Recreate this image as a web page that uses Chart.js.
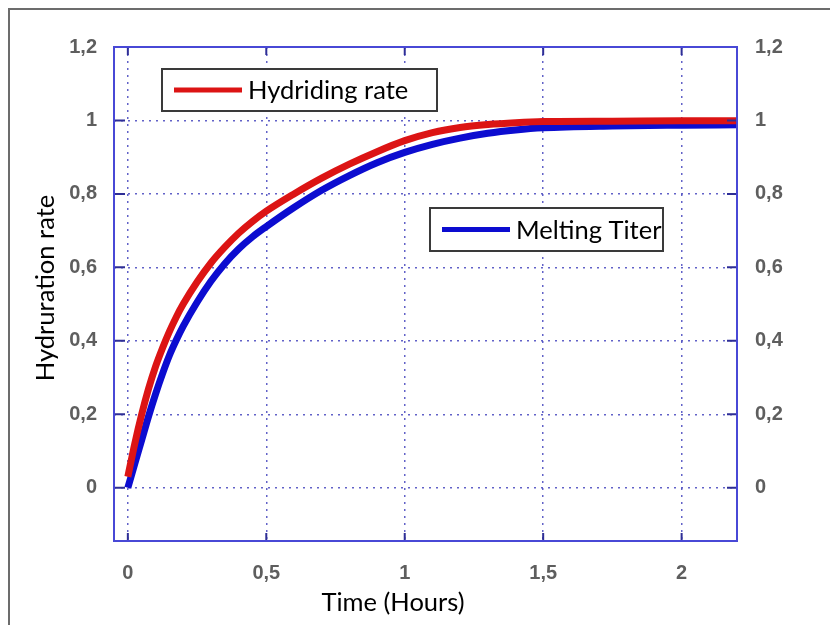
<!DOCTYPE html>
<html>
<head>
<meta charset="utf-8">
<title>Hydruration rate</title>
<script src="https://cdn.jsdelivr.net/npm/chart.js@4.4.1/dist/chart.umd.min.js"></script>
<style>
  html, body { margin: 0; padding: 0; background: #fff; }
  #wrap { position: relative; width: 830px; height: 625px; overflow: hidden; }
  #frame {
    position: absolute; left: 8px; top: 8px; right: -4px; bottom: -4px;
    border-left: 2px solid #6c6c6c; border-top: 2px solid #6c6c6c;
  }
  #chart { position: absolute; left: 0; top: 0; }
</style>
</head>
<body>
<div id="wrap">
  <div id="frame"></div>
  <canvas id="chart" width="830" height="625"></canvas>
</div>
<script>
// time axis (hours) shared by both curves
const timeHours     = [0, 0.025, 0.05, 0.075, 0.1, 0.125, 0.15, 0.175, 0.2, 0.25, 0.3, 0.35, 0.4, 0.45, 0.5,
                       0.6, 0.7, 0.8, 0.9, 1.0, 1.1, 1.2, 1.3, 1.4, 1.5, 1.75, 2.0, 2.2];
const hydridingRate = [0.03, 0.12, 0.2, 0.27, 0.33, 0.38, 0.425, 0.465, 0.5, 0.56, 0.612, 0.655, 0.693, 0.725, 0.753,
                       0.8, 0.843, 0.881, 0.915, 0.945, 0.967, 0.981, 0.989, 0.994, 0.997, 0.998, 0.999, 0.999];
const meltingTiter  = [0, 0.065, 0.13, 0.195, 0.255, 0.31, 0.36, 0.402, 0.44, 0.505, 0.562, 0.61, 0.65, 0.683, 0.711,
                       0.763, 0.81, 0.85, 0.885, 0.913, 0.935, 0.952, 0.965, 0.974, 0.98, 0.985, 0.987, 0.988];

const xTicks = [0, 0.5, 1, 1.5, 2];
const yTicks = [0, 0.2, 0.4, 0.6, 0.8, 1, 1.2];
const xRange = [-0.05, 2.2];
const yRange = [-0.145, 1.2];

const GRID_COLOR = 'rgba(70, 70, 190, 0.85)';
const TICK_FONT = { family: 'Liberation Sans, Arial, sans-serif', size: 20, weight: 'bold' };
const TICK_COLOR = '#5e5e5e';
const TEXT_FONT = 'Lato, "Open Sans", sans-serif';

// comma as decimal separator
const fmt = v => String(Math.round(v * 10) / 10).replace('.', ',');

const toPoints = ys => timeHours.map((t, i) => ({ x: t, y: ys[i] }));

// frame around the plot plus the short inward tick marks
const framePlugin = {
  id: 'plotFrame',
  afterDatasetsDraw(chart) {
    const { ctx, chartArea: a, scales } = chart;
    ctx.save();
    ctx.strokeStyle = '#2e2e96';
    ctx.lineWidth = 2;
    ctx.beginPath();
    xTicks.forEach(v => {
      const px = scales.x.getPixelForValue(v);
      ctx.moveTo(px, a.bottom); ctx.lineTo(px, a.bottom - 8);
      ctx.moveTo(px, a.top); ctx.lineTo(px, a.top + 8);
    });
    yTicks.forEach(v => {
      const py = scales.y.getPixelForValue(v);
      ctx.moveTo(a.left, py); ctx.lineTo(a.left + 11, py);
      ctx.moveTo(a.right, py); ctx.lineTo(a.right - 10, py);
    });
    ctx.stroke();
    ctx.strokeStyle = '#4848d6';
    ctx.lineWidth = 2;
    ctx.strokeRect(a.left, a.top, a.right - a.left, a.bottom - a.top);
    ctx.restore();
  }
};

// two separate boxed legend entries inside the plot
const legendBoxes = [
  { index: 0, x: 162, y: 69, w: 275, h: 42 },
  { index: 1, x: 430, y: 208, w: 233, h: 43 }
];

const boxLegendPlugin = {
  id: 'boxLegend',
  afterDraw(chart) {
    const { ctx } = chart;
    ctx.save();
    legendBoxes.forEach(b => {
      const ds = chart.data.datasets[b.index];
      ctx.fillStyle = '#fff';
      ctx.fillRect(b.x, b.y, b.w, b.h);
      ctx.strokeStyle = '#3a3a3a';
      ctx.lineWidth = 2;
      ctx.strokeRect(b.x, b.y, b.w, b.h);
      const cy = b.y + b.h / 2;
      ctx.strokeStyle = ds.borderColor;
      ctx.lineWidth = 5;
      ctx.beginPath();
      ctx.moveTo(b.x + 12, cy);
      ctx.lineTo(b.x + 80, cy);
      ctx.stroke();
      ctx.fillStyle = '#000';
      ctx.font = '25.5px ' + TEXT_FONT;
      ctx.textAlign = 'left';
      ctx.textBaseline = 'middle';
      ctx.fillText(ds.label, b.x + 86, cy + 1);
    });
    ctx.restore();
  }
};

// axis titles
const axisTitlePlugin = {
  id: 'axisTitles',
  afterDraw(chart) {
    const { ctx } = chart;
    ctx.save();
    ctx.fillStyle = '#000';
    ctx.font = '25.5px ' + TEXT_FONT;
    ctx.textAlign = 'center';
    ctx.textBaseline = 'middle';
    ctx.fillText('Time (Hours)', 393, 603);
    ctx.translate(46, 288);
    ctx.rotate(-Math.PI / 2);
    ctx.fillText('Hydruration rate', 0, 0);
    ctx.restore();
  }
};

const setTicks = list => scale => { scale.ticks = list.map(v => ({ value: v })); };

new Chart(document.getElementById('chart'), {
  type: 'line',
  data: {
    datasets: [
      {
        label: 'Hydriding rate',
        data: toPoints(hydridingRate),
        borderColor: '#dc1414',
        borderWidth: 7,
        pointRadius: 0,
        fill: false,
        cubicInterpolationMode: 'monotone'
      },
      {
        label: 'Melting Titer',
        data: toPoints(meltingTiter),
        borderColor: '#0c0cd0',
        borderWidth: 7,
        pointRadius: 0,
        fill: false,
        cubicInterpolationMode: 'monotone'
      }
    ]
  },
  options: {
    responsive: false,
    animation: false,
    devicePixelRatio: 1,
    layout: { padding: { top: 47, left: 0, right: 0, bottom: 0 } },
    plugins: { legend: { display: false }, tooltip: { enabled: false } },
    scales: {
      x: {
        type: 'linear',
        min: xRange[0],
        max: xRange[1],
        afterBuildTicks: setTicks(xTicks),
        afterFit: s => { s.height = 84; },
        grid: { color: GRID_COLOR, lineWidth: 1.5, drawTicks: false },
        border: { display: false, dash: [2, 5] },
        ticks: { font: TICK_FONT, color: TICK_COLOR, padding: 20, maxRotation: 0, callback: fmt }
      },
      y: {
        type: 'linear',
        position: 'left',
        min: yRange[0],
        max: yRange[1],
        afterBuildTicks: setTicks(yTicks),
        afterFit: s => { s.width = 114; },
        grid: { color: GRID_COLOR, lineWidth: 1.5, drawTicks: false },
        border: { display: false, dash: [2, 5] },
        ticks: { font: TICK_FONT, color: TICK_COLOR, padding: 17, callback: fmt }
      },
      y2: {
        type: 'linear',
        position: 'right',
        min: yRange[0],
        max: yRange[1],
        afterBuildTicks: setTicks(yTicks),
        afterFit: s => { s.width = 93; },
        grid: { display: false, drawTicks: false },
        border: { display: false },
        ticks: { font: TICK_FONT, color: TICK_COLOR, padding: 18, callback: fmt }
      }
    }
  },
  plugins: [framePlugin, boxLegendPlugin, axisTitlePlugin]
});
</script>
</body>
</html>
